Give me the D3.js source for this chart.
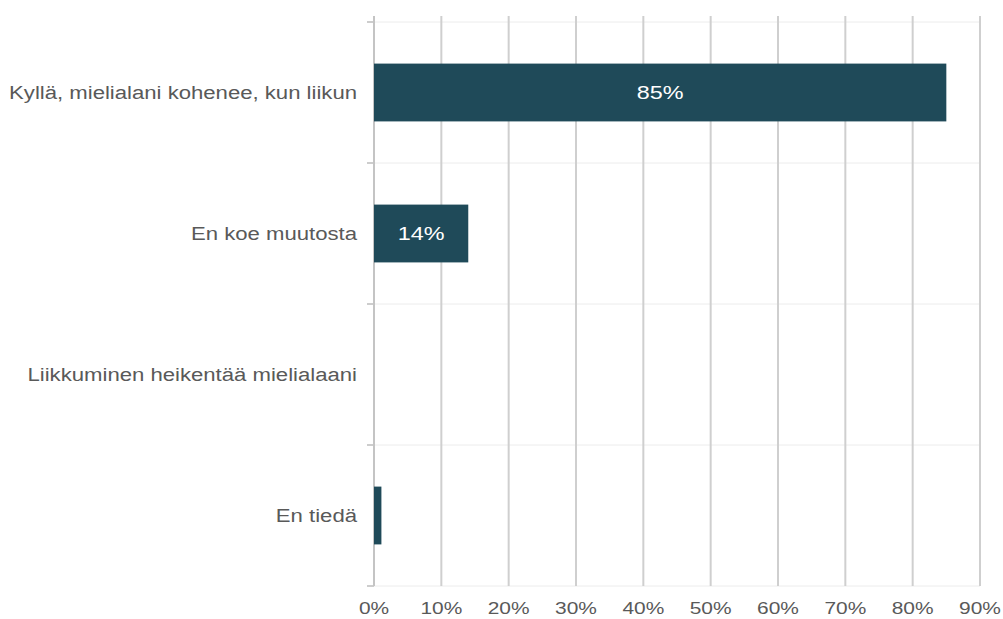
<!DOCTYPE html>
<html>
<head>
<meta charset="utf-8">
<script src="https://cdn.jsdelivr.net/npm/d3@7"></script>
<style>
  html, body { margin: 0; padding: 0; background: #fff; }
  svg { display: block; font-family: "Liberation Sans", Arial, sans-serif; }
</style>
</head>
<body>
<svg id="chart" width="1003" height="619"></svg>
<script>
// Survey answers and their shares (%)
const categories = [
  "Kyllä, mielialani kohenee, kun liikun",
  "En koe muutosta",
  "Liikkuminen heikentää mielialaani",
  "En tiedä"
];
const values = [85, 14, 0, 1.1];
const valueLabels = ["85%", "14%", "", ""];
const xTicks = [0, 10, 20, 30, 40, 50, 60, 70, 80, 90];

const svg = d3.select("#chart");
const margin = { top: 22, right: 23, bottom: 33, left: 374 };
const width = 1003 - margin.left - margin.right;
const height = 619 - margin.top - margin.bottom;
const textStretch = 1.23; // wide lettering

const g = svg.append("g").attr("transform", `translate(${margin.left},${margin.top})`);

const x = d3.scaleLinear().domain([0, 90]).range([0, width]);
const y = d3.scaleBand().domain(categories).range([0, height]).paddingInner(0.59).paddingOuter(0.295);

// Band boundaries (faint horizontal rules + category ticks)
const boundaries = d3.range(categories.length + 1).map(i => i * (height / categories.length));

g.selectAll(".hgrid").data(boundaries).join("line")
  .attr("x1", 0).attr("x2", width)
  .attr("y1", d => d).attr("y2", d => d)
  .attr("stroke", "#ececec").attr("stroke-width", 1);

// Vertical gridlines
g.selectAll(".vgrid").data(xTicks).join("line")
  .attr("x1", d => x(d)).attr("x2", d => x(d))
  .attr("y1", -6).attr("y2", height)
  .attr("stroke", "#cfcfcf").attr("stroke-width", 2);

// Category ticks on the left axis
g.selectAll(".ytick").data(boundaries).join("line")
  .attr("x1", -7).attr("x2", 0)
  .attr("y1", d => d).attr("y2", d => d)
  .attr("stroke", "#bdbdbd").attr("stroke-width", 1.5);

// Left axis line
g.append("line").attr("x1", 0).attr("x2", 0).attr("y1", -6).attr("y2", height)
  .attr("stroke", "#c4c4c4").attr("stroke-width", 2);

// Bars
g.selectAll(".bar").data(categories).join("rect")
  .attr("x", x(0))
  .attr("y", d => y(d))
  .attr("width", (d, i) => x(values[i]) - x(0))
  .attr("height", y.bandwidth())
  .attr("fill", "#1f4a59");

// Value labels inside bars
g.selectAll(".vlabel").data(categories).join("text")
  .attr("transform", (d, i) => `translate(${x(values[i]) / 2},${y(d) + y.bandwidth() / 2}) scale(${textStretch},1)`)
  .attr("dy", "0.36em")
  .attr("text-anchor", "middle")
  .attr("fill", "#ffffff")
  .attr("font-size", 19)
  .text((d, i) => valueLabels[i]);

// Category labels
g.selectAll(".clabel").data(categories).join("text")
  .attr("transform", d => `translate(-17,${y(d) + y.bandwidth() / 2}) scale(${textStretch},1)`)
  .attr("dy", "0.36em")
  .attr("text-anchor", "end")
  .attr("fill", "#595959")
  .attr("font-size", 18)
  .text(d => d);

// X tick labels
g.selectAll(".xlabel").data(xTicks).join("text")
  .attr("transform", d => `translate(${x(d)},${height + 28}) scale(${textStretch},1)`)
  .attr("text-anchor", "middle")
  .attr("fill", "#595959")
  .attr("font-size", 17)
  .text(d => d + "%");
</script>
</body>
</html>
